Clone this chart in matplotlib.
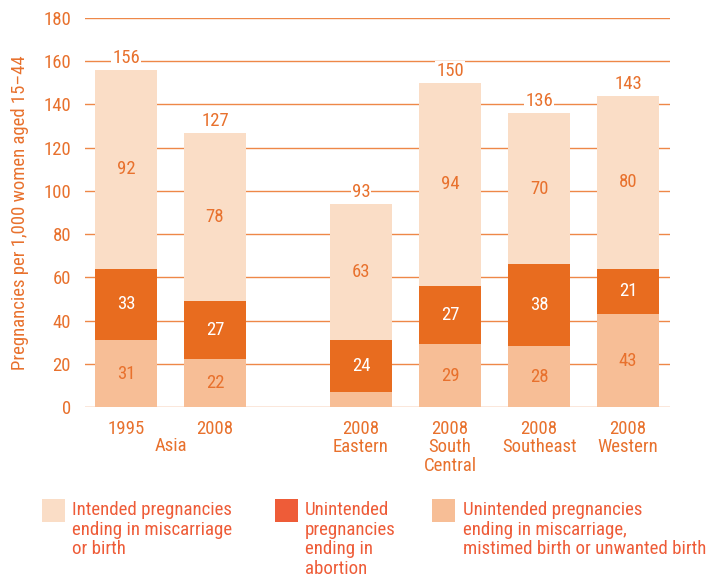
import matplotlib
matplotlib.use("Agg")
import matplotlib.pyplot as plt
from matplotlib.patches import Rectangle
import numpy as np

plt.rcParams['font.family'] = ['Roboto Condensed', 'DejaVu Sans']

years = ["1995", "2008", "2008", "2008", "2008", "2008"]
regions = ["", "", "Eastern", "South\nCentral", "Southeast", "Western"]
group_label = "Asia"
unintended_other = [31, 22, 7, 29, 28, 43]
unintended_abortion = [33, 27, 24, 27, 38, 21]
intended = [92, 78, 63, 94, 70, 80]
totals = [156, 127, 93, 150, 136, 143]
show_bottom_label = [True, True, False, True, True, True]
legend_labels = ["Intended pregnancies\nending in miscarriage\nor birth",
                 "Unintended\npregnancies\nending in\nabortion",
                 "Unintended pregnancies\nending in miscarriage,\nmistimed birth or unwanted birth"]

c_light = "#FADDC6"
c_dark = "#E86C1F"
c_mid = "#F7BE96"
c_text = "#E8712D"
c_grid = "#EE8848"
c_legtext = "#EE5C38"

fig = plt.figure(figsize=(7.15, 5.79), dpi=100)
ax = fig.add_axes([85/715, 1 - 407/579, (670-85)/715, (407-18)/579])

x = np.array([0, 1, 2.64, 3.64, 4.64, 5.64])
w = 0.69
b1 = np.array(unintended_other)
b2 = b1 + np.array(unintended_abortion)
ax.bar(x, unintended_other, w, color=c_mid, zorder=2)
ax.bar(x, unintended_abortion, w, bottom=b1, color=c_dark, zorder=2)
ax.bar(x, intended, w, bottom=b2, color=c_light, zorder=2)

fs = 13.5
for i, xi in enumerate(x):
    if show_bottom_label[i]:
        ax.text(xi, unintended_other[i]/2, str(unintended_other[i]), ha='center', va='center',
                color=c_text, fontsize=fs, zorder=3)
    ax.text(xi, b1[i] + unintended_abortion[i]/2, str(unintended_abortion[i]), ha='center', va='center',
            color='white', fontsize=fs, zorder=3)
    ax.text(xi, b2[i] + intended[i]/2, str(intended[i]), ha='center', va='center',
            color=c_text, fontsize=fs, zorder=3)
    top = b2[i] + intended[i]
    ax.text(xi, top + 5.4, str(totals[i]), ha='center', va='center', color=c_text, fontsize=fs,
            zorder=1.5, bbox=dict(facecolor='white', edgecolor='none', pad=0.8))

ax.set_ylim(0, 180)
ax.set_xlim(-0.46, 6.11)
ax.set_yticks(np.arange(0, 181, 20))
ax.yaxis.grid(True, color=c_grid, linewidth=1.0, zorder=0)
ax.set_axisbelow(True)
for s in ax.spines.values():
    s.set_visible(False)
ax.tick_params(axis='y', length=0, labelcolor=c_text, labelsize=fs, pad=10)
ax.set_xticks(x)
ax.set_xticklabels([y + ("\n" + r if r else "") for y, r in zip(years, regions)],
                   color=c_text, fontsize=fs, linespacing=1.05)
ax.tick_params(axis='x', length=0, pad=9)
ax.text((x[0] + x[1]) / 2, -18, group_label, ha='center', va='center', color=c_text, fontsize=fs,
        transform=ax.transData)
ax.set_ylabel("Pregnancies per 1,000 women aged 15\u201344", color=c_text, fontsize=fs, labelpad=10)

# legend
leg_items = [(42, 72, c_light), (275, 305, c_legtext), (432, 463, c_mid)]
for (px, tx, col), lab in zip(leg_items, legend_labels):
    fig.patches.append(Rectangle((px/715, 1 - 522/579), 23/715, 23/579, transform=fig.transFigure,
                                 facecolor=col, edgecolor='none'))
    fig.text(tx/715, 1 - 501/579, lab, ha='left', va='top', color=c_legtext, fontsize=13.6,
             linespacing=1.12)

fig.savefig("out.png", dpi=100)
